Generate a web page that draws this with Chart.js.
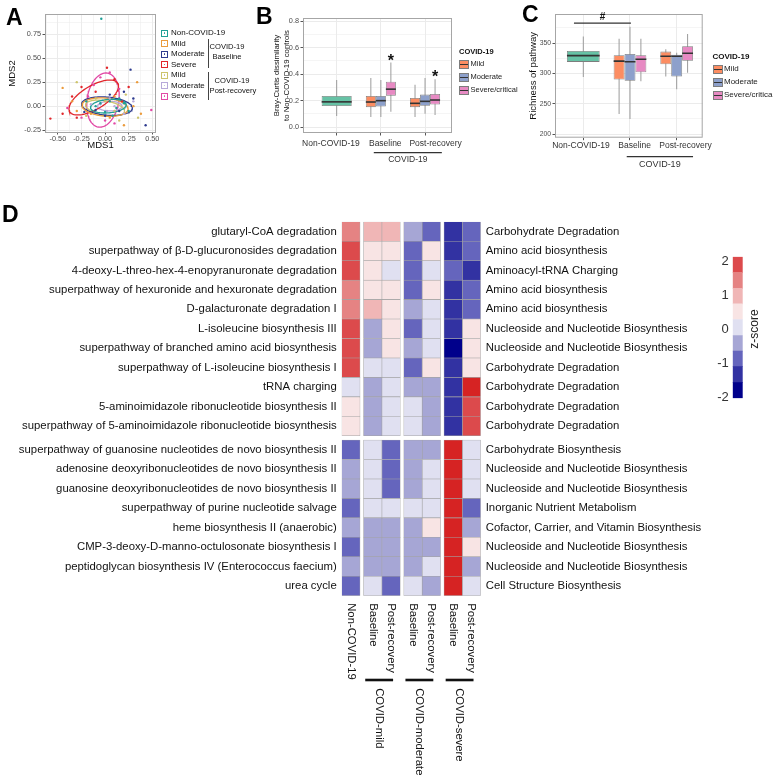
<!DOCTYPE html>
<html lang="en">
<head>
  <meta charset="UTF-8" />
  <title>COVID-19 gut microbiome pathways</title>
  <style>
    body { margin: 0; background: #fff; font-family: "Liberation Sans", Arial, sans-serif; }
    #fig { position: relative; width: 773px; height: 777px; overflow: hidden; }
    #fig canvas { position: absolute; }
    .t { position: absolute; white-space: nowrap; color: #111; line-height: 1; }
    .tag { position: absolute; font-weight: bold; font-size: 23px; line-height: 1; color: #000; }
    .akey { position: absolute; width: 5px; height: 5px; border: 1.3px solid; background: #fff; }
    .akey i { position: absolute; left: 1.6px; top: 1.6px; width: 1.8px; height: 1.8px; border-radius: 50%; }
    .bkey { position: absolute; width: 8px; height: 7px; border: 0.8px solid #7d7d7d; }
    .bkey i { position: absolute; left: 0; right: 0; top: 3px; height: 1px; background: #333; }
    .vline { position: absolute; border-left: 1.4px solid #444; }
  </style>
</head>
<body>
<div id="fig">
  <canvas id="chartA" width="160" height="152" style="left:0;top:0"></canvas>
  <canvas id="chartB" width="200" height="170" style="left:268px;top:0"></canvas>
  <canvas id="chartC" width="195" height="172" style="left:522px;top:0"></canvas>
  <canvas id="chartD" width="720" height="567" style="left:0;top:210px"></canvas>
  <canvas id="chartZ" width="73" height="165" style="left:700px;top:245px"></canvas>

  <div class="tag" style="left:6px;top:6px">A</div>
  <div class="tag" style="left:256px;top:5px">B</div>
  <div class="tag" style="left:522px;top:3px">C</div>
  <div class="tag" style="left:2px;top:203px">D</div>
</div>

<script src="https://cdn.jsdelivr.net/npm/chart.js"></script>
<script>
  const FONT = '"Liberation Sans", Arial, sans-serif';

  // ---- panel A: MDS of pathway profiles ----
  const mdsLabels = ['Non-COVID-19', 'Mild', 'Moderate', 'Severe', 'Mild', 'Moderate', 'Severe'];
  const mdsColors = ['#1f9f96', '#eb9b3c', '#2d3a8e', '#e1262b', '#cdc46c', '#b7a9da', '#e24aa6'];
  const mdsNonCovid = [[-0.04, 0.91], [0.05, 0.05], [0.12, -0.02], [-0.1, 0.0], [0.2, 0.03], [0.0, -0.06], [0.15, 0.08], [-0.05, 0.03], [0.25, -0.05], [0.08, -0.1], [-0.2, 0.05]];
  const mdsMildBase = [[-0.45, 0.19], [0.34, 0.25], [0.2, -0.2], [-0.3, -0.05], [0.1, 0.1], [0.3, 0.0], [-0.15, -0.08], [0.05, -0.12], [0.38, -0.08], [-0.35, 0.05]];
  const mdsModBase = [[0.27, 0.38], [0.15, -0.05], [0.3, 0.08], [-0.1, -0.04], [0.05, 0.12], [0.43, -0.2], [-0.22, -0.06], [0.2, 0.15], [0.0, -0.1]];
  const mdsSevBase = [[-0.58, -0.13], [0.02, 0.4], [-0.35, 0.1], [-0.25, 0.2], [-0.1, 0.15], [0.1, 0.28], [-0.45, -0.08], [-0.3, -0.12], [0.18, 0.05], [0.25, 0.2]];
  const mdsMildPost = [[-0.3, 0.25], [0.15, -0.15], [0.0, 0.05], [0.35, -0.12], [-0.2, -0.1], [0.22, 0.12], [-0.1, 0.08], [0.1, -0.05]];
  const mdsModPost = [[-0.05, 0.02], [0.1, 0.0], [0.2, -0.08], [0.02, -0.05], [-0.15, 0.02], [0.3, 0.05], [0.05, 0.08]];
  const mdsSevPost = [[0.49, -0.04], [-0.05, 0.3], [0.1, -0.18], [-0.12, 0.22], [0.05, 0.35], [0.0, -0.15], [-0.18, 0.1], [0.15, 0.18], [-0.4, -0.02], [-0.25, -0.12]];
  const mdsPoints = [mdsNonCovid, mdsMildBase, mdsModBase, mdsSevBase, mdsMildPost, mdsModPost, mdsSevPost];
  // confidence ellipses: centre x, centre y, semi-axis a, semi-axis b, angle (deg)
  const mdsEllipses = [
    [0.035, 0.0, 0.19, 0.07, 5],
    [0.0, -0.01, 0.245, 0.094, -5],
    [0.02, 0.0, 0.27, 0.094, -5],
    [-0.12, 0.09, 0.295, 0.123, 30],
    [0.0, -0.02, 0.21, 0.075, -10],
    [0.05, 0.0, 0.13, 0.05, 0],
    [-0.023, 0.063, 0.285, 0.168, 80]
  ];

  // ---- panel B / C: box statistics [lower whisker, q1, median, q3, upper whisker] ----
  const boxCats = ['Non-COVID-19', 'Baseline', 'Post-recovery'];
  const severityNames = ['Mild', 'Moderate', 'Severe/critical'];
  const severityColors = ['#fc8d62', '#8da0cb', '#e78ac3'];
  const nonCovidColor = '#66c2a5';

  const bcNonCovid = [0.083, 0.158, 0.196, 0.234, 0.355];
  const bcMild = [[0.075, 0.15, 0.195, 0.235, 0.37], [0.075, 0.15, 0.185, 0.22, 0.32]];
  const bcModerate = [[0.075, 0.155, 0.205, 0.235, 0.355], [0.1, 0.16, 0.2, 0.245, 0.37]];
  const bcSevere = [[0.115, 0.237, 0.292, 0.342, 0.488], [0.09, 0.17, 0.21, 0.25, 0.36]];
  const bcStars = [null, 0.53, 0.41];

  const richNonCovid = [294, 319, 328, 337, 361];
  const richMild = [[233, 290, 319, 330, 357], [295, 315, 327, 336, 340]];
  const richModerate = [[225, 288, 318, 332, 377], [274, 295, 327, 331, 334]];
  const richSevere = [[287, 302, 322, 330, 357], [301, 321, 332, 345, 365]];

  // ---- panel D: z-score heatmap ----
  const pathwayNames = [
    'glutaryl-CoA degradation',
    'superpathway of β-D-glucuronosides degradation',
    '4-deoxy-L-threo-hex-4-enopyranuronate degradation',
    'superpathway of hexuronide and hexuronate degradation',
    'D-galacturonate degradation I',
    'L-isoleucine biosynthesis III',
    'superpathway of branched amino acid biosynthesis',
    'superpathway of L-isoleucine biosynthesis I',
    'tRNA charging',
    '5-aminoimidazole ribonucleotide biosynthesis II',
    'superpathway of 5-aminoimidazole ribonucleotide biosynthesis',
    'superpathway of guanosine nucleotides de novo biosynthesis II',
    'adenosine deoxyribonucleotides de novo biosynthesis II',
    'guanosine deoxyribonucleotides de novo biosynthesis II',
    'superpathway of purine nucleotide salvage',
    'heme biosynthesis II (anaerobic)',
    'CMP-3-deoxy-D-manno-octulosonate biosynthesis I',
    'peptidoglycan biosynthesis IV (Enterococcus faecium)',
    'urea cycle'
  ];
  const pathwayClasses = [
    'Carbohydrate Degradation', 'Amino acid biosynthesis', 'Aminoacyl-tRNA Charging',
    'Amino acid biosynthesis', 'Amino acid biosynthesis', 'Nucleoside and Nucleotide Biosynthesis',
    'Nucleoside and Nucleotide Biosynthesis', 'Carbohydrate Degradation', 'Carbohydrate Degradation',
    'Carbohydrate Degradation', 'Carbohydrate Degradation', 'Carbohydrate Biosynthesis',
    'Nucleoside and Nucleotide Biosynthesis', 'Nucleoside and Nucleotide Biosynthesis',
    'Inorganic Nutrient Metabolism', 'Cofactor, Carrier, and Vitamin Biosynthesis',
    'Nucleoside and Nucleotide Biosynthesis', 'Nucleoside and Nucleotide Biosynthesis',
    'Cell Structure Biosynthesis'
  ];
  const rowGroupSizes = [11, 8];
  const heatCols = ['Non-COVID-19', 'Baseline', 'Post-recovery', 'Baseline', 'Post-recovery', 'Baseline', 'Post-recovery'];
  const colGroupSizes = [1, 2, 2, 2];
  const colGroupNames = [null, 'COVID-mild', 'COVID-moderate', 'COVID-severe'];
  // rows x columns (Non-COVID, mild B/P, moderate B/P, severe B/P)
  const zScores = [
    [1.45, 0.98, 0.98, -0.41, -0.87, -1.33, -0.87],
    [1.9, 0.5, 0.5, -0.87, 0.5, -1.33, -0.87],
    [1.9, 0.5, 0.05, -0.87, 0.05, -0.87, -1.33],
    [1.45, 0.5, 0.5, -0.87, 0.5, -1.33, -0.87],
    [1.45, 0.98, 0.5, -0.41, 0.05, -1.33, -0.87],
    [1.9, -0.41, 0.5, -0.87, 0.05, -1.33, 0.5],
    [1.9, -0.41, 0.5, -0.41, 0.05, -1.8, 0.5],
    [1.9, 0.05, 0.05, -0.87, 0.5, -1.33, 0.5],
    [0.05, -0.41, 0.05, -0.41, -0.41, -1.33, 2.5],
    [0.5, -0.41, 0.05, 0.05, -0.41, -1.33, 1.9],
    [0.5, -0.41, 0.05, 0.05, -0.41, -1.33, 1.9],
    [-0.87, 0.05, -0.87, -0.41, -0.41, 2.5, 0.05],
    [-0.41, 0.05, -0.87, -0.41, 0.05, 2.5, 0.05],
    [-0.41, 0.05, -0.87, -0.41, 0.05, 2.5, 0.05],
    [-0.87, 0.05, 0.05, 0.05, 0.05, 2.5, -0.87],
    [-0.41, -0.41, -0.41, -0.41, 0.5, 2.5, -0.41],
    [-0.87, -0.41, -0.41, -0.41, -0.41, 2.5, 0.5],
    [-0.41, -0.41, -0.41, -0.41, 0.05, 2.5, -0.41],
    [-0.87, 0.05, -0.87, 0.05, -0.41, 2.5, 0.05]
  ];
  const zBinEdges = [-2.03, -1.57, -1.1, -0.64, -0.18, 0.29, 0.75, 1.21, 1.68, 2.14];
  const zBinColors = ['#00008b', '#3232a2', '#6565bd', '#a6a6d5', '#e0e0f1', '#f8e4e4', '#f0b6b6', '#e58383', '#dc4a4c'];
  const zOverColor = '#d62323';
  const zTicks = [-2, -1, 0, 1, 2];

  Chart.defaults.font.family = FONT;
  Chart.defaults.animation = false;
  Chart.defaults.plugins.legend.display = false;
  Chart.defaults.plugins.tooltip.enabled = false;

  const fig = document.getElementById('fig');
  function addText(txt, x, y, css) {
    const d = document.createElement('div');
    d.className = 't';
    d.textContent = txt;
    d.style.cssText = `left:${x}px;top:${y}px;` + (css || '');
    fig.appendChild(d);
    return d;
  }

  // grey panel outline like theme_bw
  const panelBox = {
    id: 'panelBox',
    afterDraw(chart) {
      const a = chart.chartArea, ctx = chart.ctx;
      ctx.save();
      ctx.strokeStyle = '#a6a6a6';
      ctx.lineWidth = 1;
      ctx.strokeRect(a.left + 0.5, a.top + 0.5, a.right - a.left - 1, a.bottom - a.top - 1);
      ctx.restore();
    }
  };

  function gridAxis(min, max, major, minor, fmt, size) {
    const all = major.concat(minor).sort((p, q) => p - q);
    const isMajor = v => major.some(m => Math.abs(m - v) < 1e-9);
    return {
      type: 'linear', min, max,
      afterBuildTicks: s => { s.ticks = all.map(v => ({ value: v })); },
      ticks: { autoSkip: false, maxRotation: 0, font: { size }, color: '#4d4d4d', padding: 1.5,
               callback: v => isMajor(v) ? fmt(v) : '' },
      grid: { color: '#ebebeb',
              lineWidth: c => (c.tick && isMajor(c.tick.value)) ? 1 : 0.5,
              tickLength: 2.5,
              tickColor: c => (c.tick && isMajor(c.tick.value)) ? '#555' : 'rgba(0,0,0,0)' },
      border: { display: false }
    };
  }

  // ---------- A ----------
  function ellipsePath(e) {
    const [cx, cy, a, b, deg] = e;
    const t = deg * Math.PI / 180;
    const pts = [];
    for (let k = 0; k <= 90; k++) {
      const u = k / 90 * 2 * Math.PI;
      pts.push({ x: cx + a * Math.cos(u) * Math.cos(t) - b * Math.sin(u) * Math.sin(t),
                 y: cy + a * Math.cos(u) * Math.sin(t) + b * Math.sin(u) * Math.cos(t) });
    }
    return pts;
  }

  const aSets = [];
  mdsPoints.forEach((pts, i) => {
    aSets.push({ label: mdsLabels[i], data: pts.map(p => ({ x: p[0], y: p[1] })),
                 pointRadius: 1.2, pointBackgroundColor: mdsColors[i], pointBorderWidth: 0, showLine: false });
  });
  mdsEllipses.forEach((e, i) => {
    aSets.push({ label: mdsLabels[i] + ' ellipse', data: ellipsePath(e), showLine: true, fill: false,
                 pointRadius: 0, borderColor: mdsColors[i], borderWidth: 1.3, tension: 0 });
  });

  const axA = gridAxis(-0.637, 0.54, [-0.5, -0.25, 0, 0.25, 0.5], [-0.625, -0.375, -0.125, 0.125, 0.375], v => v.toFixed(2), 7.3);
  axA.afterFit = s => { s.height = 19; };
  axA.grid.tickLength = 1.5;
  axA.ticks.padding = 0;
  axA.title = { display: true, text: 'MDS1', font: { size: 9.5 }, color: '#111', padding: { top: 0, bottom: 0.5 } };
  const ayA = gridAxis(-0.28, 0.96, [-0.25, 0, 0.25, 0.5, 0.75], [-0.125, 0.125, 0.375, 0.625, 0.875], v => v.toFixed(2), 7.3);
  ayA.afterFit = s => { s.width = 45; };
  ayA.title = { display: true, text: 'MDS2', font: { size: 9.5 }, color: '#111', padding: { top: 7, bottom: 0 } };

  new Chart(document.getElementById('chartA'), {
    type: 'scatter',
    data: { datasets: aSets },
    options: {
      responsive: false,
      layout: { padding: { top: 14, right: 3, left: 0, bottom: 0 } },
      scales: { x: axA, y: ayA }
    },
    plugins: [panelBox]
  });

  // legend A
  mdsLabels.forEach((lab, i) => {
    const cy = 33.3 + i * 10.5;
    const key = document.createElement('div');
    key.className = 'akey';
    key.style.cssText = `left:161px;top:${cy - 3.8}px;border-color:${mdsColors[i]}`;
    const dot = document.createElement('i');
    dot.style.background = mdsColors[i];
    key.appendChild(dot);
    fig.appendChild(key);
    addText(lab, 171, cy - 4.2, 'font-size:8px');
  });
  const v1 = document.createElement('div'); v1.className = 'vline'; v1.style.cssText = 'left:208px;top:39px;height:29px'; fig.appendChild(v1);
  const v2 = document.createElement('div'); v2.className = 'vline'; v2.style.cssText = 'left:208px;top:72px;height:28px'; fig.appendChild(v2);
  addText('COVID-19', 227, 46.7, 'font-size:7.6px;transform:translate(-50%,-50%)');
  addText('Baseline', 227, 56.7, 'font-size:7.6px;transform:translate(-50%,-50%)');
  addText('COVID-19', 232, 81, 'font-size:7.6px;transform:translate(-50%,-50%)');
  addText('Post-recovery', 233, 90.5, 'font-size:7.6px;transform:translate(-50%,-50%)');

  // ---------- B / C box plots ----------
  function boxSets(label, color, stats, pct) {
    const at = f => stats.map((s, i) => ({ x: i + 1, y: s ? f(s) : null }));
    const common = { stack: label, skipNull: true, categoryPercentage: pct, barPercentage: 1, xAxisID: 'x', yAxisID: 'y' };
    return [
      { ...common, label: label + ' whisker', data: at(s => [s[0], s[4]]), backgroundColor: '#9b9b9b', maxBarThickness: 1, order: 3 },
      { ...common, label: label, data: at(s => [s[1], s[3]]), backgroundColor: color,
        borderColor: '#7d7d7d', borderWidth: 0.8, borderSkipped: false, order: 2 },
      { ...common, label: label + ' median', data: at(s => [s[2], s[2]]), backgroundColor: '#333333', minBarLength: 1.6, order: 1 }
    ];
  }

  const marks = {
    id: 'marks',
    afterDraw(chart, args, o) {
      const ctx = chart.ctx, xs = chart.scales.x, ys = chart.scales.y;
      ctx.save();
      ctx.fillStyle = '#111';
      ctx.strokeStyle = '#333';
      if (o.stars) {
        const idx = chart.data.datasets.findIndex(d => d.label === o.stars.dataset);
        const meta = chart.getDatasetMeta(idx);
        ctx.font = `bold 16px ${FONT}`;
        ctx.textAlign = 'center';
        ctx.textBaseline = 'alphabetic';
        o.stars.values.forEach((v, i) => {
          if (v == null) return;
          ctx.fillText('*', meta.data[i].x, ys.getPixelForValue(v) + 9);
        });
      }
      if (o.sig) {
        const y = ys.getPixelForValue(o.sig.value);
        ctx.lineWidth = 1.2;
        ctx.beginPath();
        ctx.moveTo(xs.getPixelForValue(o.sig.from), y);
        ctx.lineTo(xs.getPixelForValue(o.sig.to), y);
        ctx.stroke();
        ctx.font = `bold 10px ${FONT}`;
        ctx.textAlign = 'center';
        ctx.textBaseline = 'bottom';
        ctx.fillText(o.sig.text, xs.getPixelForValue((o.sig.from + o.sig.to) / 2), y - 0.5);
      }
      if (o.bracket) {
        const b = o.bracket;
        const y = chart.chartArea.bottom + b.drop;
        const x0 = xs.getPixelForValue(b.from), x1 = xs.getPixelForValue(b.to);
        ctx.lineWidth = 1.3;
        ctx.beginPath();
        ctx.moveTo(x0, y);
        ctx.lineTo(x1, y);
        ctx.stroke();
        ctx.font = `${b.size}px ${FONT}`;
        ctx.fillStyle = '#333';
        ctx.textAlign = 'center';
        ctx.textBaseline = 'middle';
        ctx.fillText(b.text, (x0 + x1) / 2, y + b.gap);
      }
      ctx.restore();
    }
  };

  function noEdgePadding(s, h) {
    s.height = h;
    s.paddingLeft = 0;
    s.paddingRight = 0;
  }

  function boxChart(id, opt) {
    const sets = [
      ...boxSets('Non-COVID-19', nonCovidColor, [opt.non, null, null], opt.pct),
      ...boxSets(severityNames[0], severityColors[0], [null, ...opt.mild], opt.pct),
      ...boxSets(severityNames[1], severityColors[1], [null, ...opt.moderate], opt.pct),
      ...boxSets(severityNames[2], severityColors[2], [null, ...opt.severe], opt.pct)
    ];
    const yAxis = gridAxis(opt.yMin, opt.yMax, opt.yMajor, opt.yMinor, opt.fmt, opt.tickSize);
    yAxis.stacked = false;
    yAxis.afterFit = s => { s.width = opt.yWidth; };
    yAxis.title = { display: true, text: opt.yTitle, font: { size: opt.titleSize, lineHeight: 1.3 }, color: '#111', padding: { top: opt.titlePad, bottom: 0 } };
    return new Chart(document.getElementById(id), {
      type: 'bar',
      data: { datasets: sets },
      options: {
        responsive: false,
        layout: { padding: opt.pad },
        scales: {
          // grid + tick marks at the groups
          x: {
            type: 'linear', min: opt.xMin, max: opt.xMax, offset: false, weight: 0,
            afterBuildTicks: s => { s.ticks = boxCats.map((c, i) => ({ value: i + 1 })); },
            ticks: { display: false },
            grid: { offset: false, color: '#ebebeb', tickLength: 2.5, tickColor: '#555' },
            border: { display: false },
            afterFit: s => noEdgePadding(s, 2.5)
          },
          // group names, placed as in the figure
          xLab: {
            type: 'linear', axis: 'x', position: 'bottom', min: opt.xMin, max: opt.xMax, offset: false, weight: 1,
            afterBuildTicks: s => { s.ticks = opt.labelAt.map(v => ({ value: v })); },
            ticks: { autoSkip: false, maxRotation: 0, font: { size: 8.5 }, color: '#333', padding: opt.labelPad,
                     callback: (v, i) => boxCats[i] },
            grid: { display: false, drawTicks: false },
            border: { display: false },
            afterFit: s => noEdgePadding(s, 14.5)
          },
          y: yAxis
        },
        plugins: { marks: opt.marks }
      },
      plugins: [panelBox, marks]
    });
  }

  boxChart('chartB', {
    non: bcNonCovid, mild: bcMild, moderate: bcModerate, severe: bcSevere, pct: 0.68,
    xMin: 0.238, xMax: 3.61, yMin: -0.045, yMax: 0.823, labelAt: [0.87, 2.1, 3.24], labelPad: 2.7,
    yMajor: [0, 0.2, 0.4, 0.6, 0.8], yMinor: [0.1, 0.3, 0.5, 0.7], fmt: v => v.toFixed(1), tickSize: 7.3,
    yWidth: 35, yTitle: ['Bray-Curtis dissimilarity', 'to Non-COVID-19 controls'], titleSize: 7.8, titlePad: 4,
    pad: { top: 18, right: 16, left: 0, bottom: 20 },
    marks: {
      stars: { dataset: 'Severe/critical', values: bcStars },
      bracket: { from: 1.84, to: 3.38, drop: 19.7, gap: 6.5, text: 'COVID-19', size: 8.5 }
    }
  });

  boxChart('chartC', {
    non: richNonCovid, mild: richMild, moderate: richModerate, severe: richSevere, pct: 0.7,
    xMin: 0.394, xMax: 3.557, yMin: 194, yMax: 398, labelAt: [0.95, 2.1, 3.19], labelPad: 0.5,
    yMajor: [200, 250, 300, 350], yMinor: [225, 275, 325, 375], fmt: v => String(v), tickSize: 6.8,
    yWidth: 33, yTitle: 'Richness of pathway', titleSize: 9.5, titlePad: 5,
    pad: { top: 14, right: 14.3, left: 0, bottom: 17.3 },
    marks: {
      sig: { from: 0.8, to: 2.02, value: 383, text: '#' },
      bracket: { from: 1.93, to: 3.35, drop: 19, gap: 7.5, text: 'COVID-19', size: 9 }
    }
  });

  // legends B and C
  function boxLegend(x, titleY, rowY, step, size) {
    addText('COVID-19', x, titleY - size / 2, `font-size:${size}px;font-weight:bold`);
    severityNames.forEach((n, i) => {
      const cy = rowY + i * step;
      const k = document.createElement('div');
      k.className = 'bkey';
      k.style.cssText = `left:${x}px;top:${cy - 4}px;background:${severityColors[i]}`;
      k.appendChild(document.createElement('i'));
      fig.appendChild(k);
      addText(n, x + 11.5, cy - size / 2, `font-size:${size}px;color:#222`);
    });
  }
  boxLegend(459, 52, 63.5, 13, 7.5);
  boxLegend(712.5, 57, 69, 13, 8);

  // ---------- D heatmap ----------
  function zColor(z) {
    if (z > zBinEdges[zBinEdges.length - 1]) return zOverColor;
    for (let i = 0; i < zBinColors.length; i++) {
      if (z <= zBinEdges[i + 1]) return zBinColors[i];
    }
    return zOverColor;
  }

  // row centres and column spans (layout, with small gaps between blocks)
  const rowGap = 0.22, colGap = 0.19;
  const rowPos = [];
  rowGroupSizes.forEach((n, g) => {
    for (let k = 0; k < n; k++) rowPos.push(rowPos.length + g * rowGap);
  });
  const colSpans = [];
  let cx = 0;
  colGroupSizes.forEach((n, g) => {
    for (let k = 0; k < n; k++) { colSpans.push([cx, cx + 1]); cx += 1; }
    cx += colGap;
  });
  const colTotal = cx - colGap;
  const rowMin = -0.5, rowMax = rowPos[rowPos.length - 1] + 0.5;

  const heatSets = heatCols.map((c, j) => ({
    label: c,
    data: zScores.map((r, i) => ({ y: rowPos[i], x: colSpans[j].slice() })),
    backgroundColor: zScores.map(r => zColor(r[j])),
    borderColor: '#a3a3a3', borderWidth: 0.6, borderSkipped: false,
    stack: 'cells', categoryPercentage: 1, barPercentage: 1, yAxisID: 'y', xAxisID: 'x'
  }));

  const heatFooter = {
    id: 'heatFooter',
    afterDraw(chart) {
      const ctx = chart.ctx, xs = chart.scales.x, base = chart.chartArea.bottom;
      const mid = j => xs.getPixelForValue((colSpans[j][0] + colSpans[j][1]) / 2);
      ctx.save();
      ctx.fillStyle = '#111';
      ctx.strokeStyle = '#111';
      ctx.font = `11.3px ${FONT}`;
      ctx.textAlign = 'left';
      ctx.textBaseline = 'middle';
      heatCols.forEach((lab, j) => {
        ctx.save();
        ctx.translate(mid(j), base + 7.5);
        ctx.rotate(Math.PI / 2);
        ctx.fillText(lab, 0, 0);
        ctx.restore();
      });
      let j = 0;
      colGroupSizes.forEach((n, g) => {
        if (colGroupNames[g]) {
          const x0 = mid(j) - 7.5, x1 = mid(j + n - 1) + 2;
          ctx.lineWidth = 2.6;
          ctx.beginPath();
          ctx.moveTo(x0, base + 84.3);
          ctx.lineTo(x1, base + 84.3);
          ctx.stroke();
          ctx.save();
          ctx.translate((x0 + x1) / 2, base + 92.5);
          ctx.rotate(Math.PI / 2);
          ctx.fillText(colGroupNames[g], 0, 0);
          ctx.restore();
        }
        j += n;
      });
      ctx.restore();
    }
  };

  function rowAxis(position, labels, width) {
    return {
      type: 'linear', position, min: rowMin, max: rowMax, reverse: true, offset: false,
      afterBuildTicks: s => { s.ticks = rowPos.map(v => ({ value: v })); },
      ticks: { autoSkip: false, font: { size: 11.35 }, color: '#111', padding: 5, callback: (v, i) => labels[i] },
      grid: { display: false, drawTicks: false },
      border: { display: false },
      afterFit: s => { s.width = width; }
    };
  }

  new Chart(document.getElementById('chartD'), {
    type: 'bar',
    data: { datasets: heatSets },
    options: {
      responsive: false,
      indexAxis: 'y',
      layout: { padding: { top: 8.3, bottom: 181.3, left: 0, right: 0 } },
      scales: {
        x: { type: 'linear', min: 0, max: colTotal, display: false, stacked: false },
        y: rowAxis('left', pathwayNames, 341.7),
        y2: rowAxis('right', pathwayClasses, 720 - 480.7)
      }
    },
    plugins: [heatFooter]
  });

  // colour key
  const zTitle = {
    id: 'zTitle',
    afterDraw(chart) {
      const ctx = chart.ctx;
      ctx.save();
      ctx.fillStyle = '#222';
      ctx.font = `12px ${FONT}`;
      ctx.textAlign = 'center';
      ctx.textBaseline = 'middle';
      ctx.translate(55, 84);
      ctx.rotate(-Math.PI / 2);
      ctx.fillText('z-score', 0, 0);
      ctx.restore();
    }
  };
  new Chart(document.getElementById('chartZ'), {
    type: 'bar',
    data: {
      labels: ['z'],
      datasets: zBinColors.map((c, i) => ({
        label: 'bin' + i, data: [[zBinEdges[i], zBinEdges[i + 1]]], backgroundColor: c,
        stack: 'z', categoryPercentage: 1, barPercentage: 1
      }))
    },
    options: {
      responsive: false,
      layout: { padding: { top: 10, bottom: 9, left: 0, right: 30.3 } },
      scales: {
        x: { display: false },
        y: {
          type: 'linear', min: zBinEdges[0], max: zBinEdges[zBinEdges.length - 1], stacked: false,
          afterBuildTicks: s => { s.ticks = zTicks.map(v => ({ value: v })); },
          ticks: { font: { size: 13 }, color: '#333', padding: 4, callback: v => String(v) },
          grid: { display: false, drawTicks: false },
          border: { display: false },
          afterFit: s => { s.width = 32.7; }
        }
      }
    },
    plugins: [zTitle]
  });
</script>
</body>
</html>
